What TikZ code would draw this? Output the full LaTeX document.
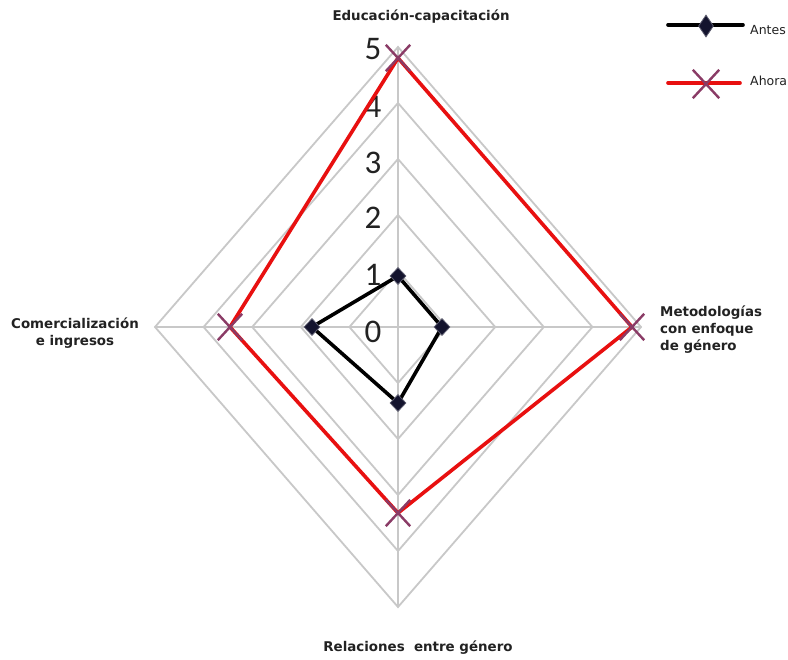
\documentclass[tikz,border=0pt]{standalone}
\usepackage{fontspec}
\setmainfont{DejaVu Sans}
\newfontfamily\digitfont{Carlito}
\usetikzlibrary{shapes.geometric,shapes.misc}
\definecolor{gridgray}{HTML}{C8C8C8}
\definecolor{seriesred}{HTML}{E81010}
\definecolor{xmark}{HTML}{8A3B66}
\definecolor{dmark}{HTML}{14142E}
\definecolor{txt}{HTML}{222222}
\tikzset{
  gridline/.style={draw=gridgray, line width=1.8pt, line join=miter},
  antesline/.style={draw=black, line width=3.6pt, line join=round},
  ahoraline/.style={draw=seriesred, line width=3.6pt, line join=round},
  dmk/.style={diamond, fill=dmark, draw=dmark!70, line width=0.8pt, minimum width=16pt, minimum height=17pt, inner sep=0pt},
  xmk/.style={cross out, draw=xmark, line width=2.4pt, minimum width=22pt, minimum height=24pt, inner sep=0pt},
  axislabel/.style={font=\bfseries\fontsize{13.4}{17}\selectfont, text=txt, inner sep=0pt},
  ticklabel/.style={font=\digitfont\fontsize{33}{33}\selectfont, text=txt, inner sep=0pt},
  legendtext/.style={font=\fontsize{12.5}{14}\selectfont, text=txt, inner sep=0pt, anchor=west}
}
\begin{document}
\begin{tikzpicture}[x=1pt,y=-1pt]
\useasboundingbox[fill=white] (0,0) rectangle (788,660);
\def\cx{398}\def\cy{327}\def\sx{48.6}\def\sy{56}
% grid
\foreach \r in {1,...,5}{
  \draw[gridline] (\cx,\cy-\r*\sy) -- (\cx+\r*\sx,\cy) -- (\cx,\cy+\r*\sy) -- (\cx-\r*\sx,\cy) -- cycle;
}
\coordinate (top) at (\cx,\cy-5*\sy);
\coordinate (bot) at (\cx,\cy+5*\sy);
\coordinate (lft) at (\cx-5*\sx,\cy);
\coordinate (rgt) at (\cx+5*\sx,\cy);
\draw[gridline] (top) -- (bot);
\draw[gridline] (lft) -- (rgt);
% tick labels
\node[ticklabel] (t5) at (373,49) {5};
\node[ticklabel] (t4) at (373,107) {4};
\node[ticklabel] (t3) at (373,163) {3};
\node[ticklabel] (t2) at (373,218) {2};
\node[ticklabel] (t1) at (373,275) {1};
\node[ticklabel] (t0) at (373,332) {0};
% Ahora
\coordinate (h1) at (398,58);
\coordinate (h2) at (632,327);
\coordinate (h3) at (398,513);
\coordinate (h4) at (230,327);
\draw[ahoraline] (h1) -- (h2) -- (h3) -- (h4) -- cycle;
\foreach \p in {h1,h2,h3,h4}{ \node[xmk] at (\p) {}; }
% Antes
\coordinate (a1) at (398,276);
\coordinate (a2) at (442,327);
\coordinate (a3) at (398,403);
\coordinate (a4) at (312,327);
\draw[antesline] (a1) -- (a2) -- (a3) -- (a4) -- cycle;
\foreach \p in {a1,a2,a3,a4}{ \node[dmk] at (\p) {}; }
% axis labels
\node[axislabel] (lab1) at (421,17) {Educación-capacitación};
\node[axislabel, anchor=west, align=left] (lab2) at (660,330) {Metodologías\\con enfoque\\de género};
\node[axislabel, align=center] (lab3) at (75,333) {Comercialización\\e ingresos};
\node[axislabel] (lab4) at (418,648) {Relaciones\ \ entre género};
% legend
\coordinate (la0) at (668,25);
\coordinate (la1) at (743,25);
\draw[antesline, line cap=round] (la0) -- (la1);
\node[dmk, minimum width=15pt, minimum height=22pt] (lad) at (706,26) {};
\node[legendtext] (lat) at (750,30) {Antes};
\coordinate (lh0) at (668,83);
\coordinate (lh1) at (740,83);
\draw[ahoraline, line cap=round] (lh0) -- (lh1);
\node[xmk, minimum width=24pt, minimum height=26pt] (lhx) at (706,84) {};
\node[legendtext] (lht) at (750,81) {Ahora};
\end{tikzpicture}
\end{document}
